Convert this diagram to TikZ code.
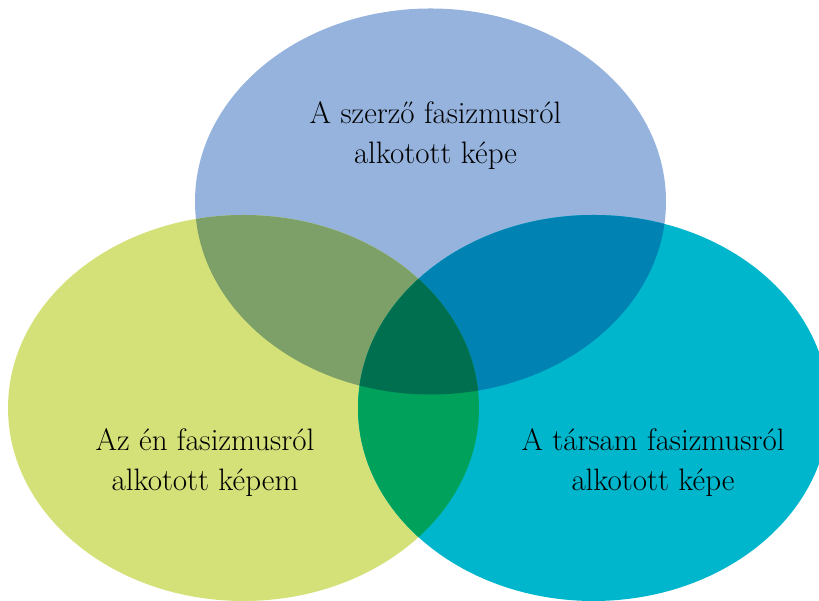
\documentclass[tikz,border=0pt]{standalone}
\usepackage{tikz}
\usetikzlibrary{calc}

\definecolor{topblue}{HTML}{95B3DD}
\definecolor{leftgreen}{HTML}{D4E178}
\definecolor{rightteal}{HTML}{00B6CC}
\definecolor{topleft}{HTML}{7CA068}
\definecolor{topright}{HTML}{0083B3}
\definecolor{leftright}{HTML}{00A15A}
\definecolor{allthree}{HTML}{006F50}

\tikzset{label text/.style={align=center,font=\fontsize{31}{40}\selectfont}}

\def\topset{(430.5,399.5) ellipse [x radius=235.5pt, y radius=193pt]}
\def\leftset{(243.5,193) ellipse [x radius=235.5pt, y radius=193pt]}
\def\rightset{(593.5,193) ellipse [x radius=235.5pt, y radius=193pt]}

\begin{document}
\begin{tikzpicture}[x=1pt,y=1pt]
\useasboundingbox (0,0) rectangle (819,601);
\fill [topblue] \topset;
\fill [leftgreen] \leftset;
\fill [rightteal] \rightset;
\begin{scope}
\clip \topset;
\fill [topleft] \leftset;
\fill [topright] \rightset;
\end{scope}
\begin{scope}
\clip \leftset;
\fill [leftright] \rightset;
\clip \rightset;
\fill [allthree] \topset;
\end{scope}
\node (T) at (435.5,465) [label text] {A szerző fasizmusról\\alkotott képe};
\node (L) at (205,138) [label text] {Az én fasizmusról\\alkotott képem};
\node (R) at (653,138) [label text] {A társam fasizmusról\\alkotott képe};
\end{tikzpicture}
\end{document}
